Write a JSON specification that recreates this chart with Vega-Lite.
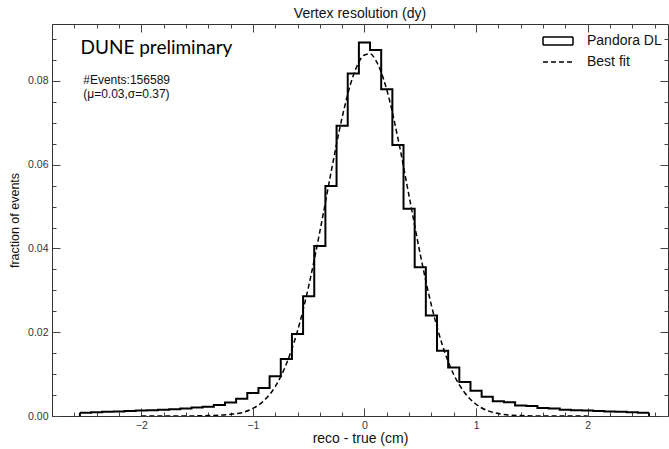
{
  "$schema": "https://vega.github.io/schema/vega-lite/v6.json",
  "width": 616,
  "height": 392,
  "autosize": "none",
  "padding": {"left": 52, "top": 24, "right": 1, "bottom": 33},
  "background": "white",
  "title": {"text": "Vertex resolution (dy)", "font": "Liberation Sans", "fontSize": 14, "fontWeight": "normal", "color": "#111", "anchor": "middle", "offset": 3},
  "config": {
    "view": {"stroke": "#333", "strokeWidth": 1},
    "axis": {"grid": false, "domainColor": "#333", "tickColor": "#444", "labelColor": "#333", "labelFont": "Liberation Sans", "labelFontSize": 10.5, "titleFont": "Liberation Sans", "titleFontWeight": "normal", "titleColor": "#111"}
  },
  "data": {"values": [
    {"lo": -2.55, "hi": -2.45, "frac": 0.0008},
    {"lo": -2.45, "hi": -2.35, "frac": 0.0009},
    {"lo": -2.35, "hi": -2.25, "frac": 0.0010},
    {"lo": -2.25, "hi": -2.15, "frac": 0.0011},
    {"lo": -2.15, "hi": -2.05, "frac": 0.0012},
    {"lo": -2.05, "hi": -1.95, "frac": 0.0013},
    {"lo": -1.95, "hi": -1.85, "frac": 0.0014},
    {"lo": -1.85, "hi": -1.75, "frac": 0.0015},
    {"lo": -1.75, "hi": -1.65, "frac": 0.0016},
    {"lo": -1.65, "hi": -1.55, "frac": 0.0018},
    {"lo": -1.55, "hi": -1.45, "frac": 0.0020},
    {"lo": -1.45, "hi": -1.35, "frac": 0.0022},
    {"lo": -1.35, "hi": -1.25, "frac": 0.0026},
    {"lo": -1.25, "hi": -1.15, "frac": 0.0032},
    {"lo": -1.15, "hi": -1.05, "frac": 0.0041},
    {"lo": -1.05, "hi": -0.95, "frac": 0.0055},
    {"lo": -0.95, "hi": -0.85, "frac": 0.0067},
    {"lo": -0.85, "hi": -0.75, "frac": 0.0095},
    {"lo": -0.75, "hi": -0.65, "frac": 0.0136},
    {"lo": -0.65, "hi": -0.55, "frac": 0.0196},
    {"lo": -0.55, "hi": -0.45, "frac": 0.0286},
    {"lo": -0.45, "hi": -0.35, "frac": 0.0406},
    {"lo": -0.35, "hi": -0.25, "frac": 0.0549},
    {"lo": -0.25, "hi": -0.15, "frac": 0.0693},
    {"lo": -0.15, "hi": -0.05, "frac": 0.0818},
    {"lo": -0.05, "hi": 0.05, "frac": 0.0892},
    {"lo": 0.05, "hi": 0.15, "frac": 0.0874},
    {"lo": 0.15, "hi": 0.25, "frac": 0.0780},
    {"lo": 0.25, "hi": 0.35, "frac": 0.0647},
    {"lo": 0.35, "hi": 0.45, "frac": 0.0495},
    {"lo": 0.45, "hi": 0.55, "frac": 0.0355},
    {"lo": 0.55, "hi": 0.65, "frac": 0.0240},
    {"lo": 0.65, "hi": 0.75, "frac": 0.0156},
    {"lo": 0.75, "hi": 0.85, "frac": 0.0116},
    {"lo": 0.85, "hi": 0.95, "frac": 0.0081},
    {"lo": 0.95, "hi": 1.05, "frac": 0.0060},
    {"lo": 1.05, "hi": 1.15, "frac": 0.0046},
    {"lo": 1.15, "hi": 1.25, "frac": 0.0035},
    {"lo": 1.25, "hi": 1.35, "frac": 0.0033},
    {"lo": 1.35, "hi": 1.45, "frac": 0.0025},
    {"lo": 1.45, "hi": 1.55, "frac": 0.0024},
    {"lo": 1.55, "hi": 1.65, "frac": 0.0019},
    {"lo": 1.65, "hi": 1.75, "frac": 0.0018},
    {"lo": 1.75, "hi": 1.85, "frac": 0.0015},
    {"lo": 1.85, "hi": 1.95, "frac": 0.0014},
    {"lo": 1.95, "hi": 2.05, "frac": 0.0013},
    {"lo": 2.05, "hi": 2.15, "frac": 0.0012},
    {"lo": 2.15, "hi": 2.25, "frac": 0.0011},
    {"lo": 2.25, "hi": 2.35, "frac": 0.0010},
    {"lo": 2.35, "hi": 2.45, "frac": 0.0009},
    {"lo": 2.45, "hi": 2.55, "frac": 0.0008}
  ]},
  "resolve": {"axis": {"x": "independent", "y": "independent"}},
  "layer": [
    {
      "transform": [{"fold": ["lo", "hi"], "as": ["edge", "xe"]}],
      "mark": {"type": "line", "color": "black", "strokeWidth": 2, "clip": true},
      "encoding": {
        "x": {"field": "xe", "type": "quantitative", "scale": {"domain": [-2.8, 2.72], "nice": false, "zero": false},
              "axis": {"orient": "bottom", "values": [-2, -1, 0, 1, 2], "tickSize": -8, "labelPadding": 12, "title": "reco - true (cm)", "titleFontSize": 14, "titlePadding": 1}},
        "y": {"field": "frac", "type": "quantitative", "scale": {"domain": [0, 0.0936], "nice": false},
              "axis": {"orient": "left", "values": [0, 0.02, 0.04, 0.06, 0.08], "format": ".2f", "tickSize": -8, "labelPadding": 12, "title": "fraction of events", "titleFontSize": 12.5, "titlePadding": 6}},
        "order": [{"field": "xe", "type": "quantitative"}, {"field": "edge", "type": "nominal"}],
        "strokeDash": {"datum": "Pandora DL", "scale": {"domain": ["Pandora DL", "Best fit"], "range": [[1, 0], [5, 3]]},
          "legend": {"title": null, "orient": "none", "legendX": 499, "legendY": 10, "symbolType": "stroke", "symbolSize": 100, "symbolStrokeWidth": 1.5, "symbolStrokeColor": "black", "labelFont": "Liberation Sans", "labelFontSize": 14, "labelColor": "#111", "labelOffset": 22, "rowPadding": 7,
            "encode": {"symbols": {"update": {"shape": {"signal": "datum.value === 'Pandora DL' ? 'M-3,-0.8H3V0.8H-3Z' : 'M-3,0H3'"}, "fill": {"value": "transparent"}, "strokeDash": {"signal": "datum.value === 'Pandora DL' ? [1,0] : [5,3]"}}}}}}
      }
    },
    {
      "data": {"values": [
        {"x": -2.0, "f": 0.0}, {"x": -1.8, "f": 0.0}, {"x": -1.6, "f": 0.0}, {"x": -1.4, "f": 0.0001},
        {"x": -1.3, "f": 0.0002}, {"x": -1.2, "f": 0.0004}, {"x": -1.1, "f": 0.0008}, {"x": -1.0, "f": 0.0018},
        {"x": -0.9, "f": 0.0037}, {"x": -0.8, "f": 0.0070}, {"x": -0.7, "f": 0.0124}, {"x": -0.6, "f": 0.0203},
        {"x": -0.5, "f": 0.0310}, {"x": -0.4, "f": 0.0440}, {"x": -0.3, "f": 0.0581}, {"x": -0.2, "f": 0.0713},
        {"x": -0.1, "f": 0.0813}, {"x": 0.0, "f": 0.0862}, {"x": 0.05, "f": 0.0865}, {"x": 0.1, "f": 0.0850},
        {"x": 0.2, "f": 0.0779}, {"x": 0.3, "f": 0.0663}, {"x": 0.4, "f": 0.0525}, {"x": 0.5, "f": 0.0386},
        {"x": 0.6, "f": 0.0264}, {"x": 0.7, "f": 0.0168}, {"x": 0.8, "f": 0.0099}, {"x": 0.9, "f": 0.0055},
        {"x": 1.0, "f": 0.0028}, {"x": 1.1, "f": 0.0013}, {"x": 1.2, "f": 0.0006}, {"x": 1.3, "f": 0.0002},
        {"x": 1.4, "f": 0.0001}, {"x": 1.6, "f": 0.0}, {"x": 1.8, "f": 0.0}, {"x": 2.0, "f": 0.0}
      ]},
      "mark": {"type": "line", "color": "black", "strokeWidth": 1.5, "interpolate": "monotone", "clip": true},
      "encoding": {
        "x": {"field": "x", "type": "quantitative", "axis": {"orient": "top", "values": [-2, -1, 0, 1, 2], "tickSize": -8, "labels": false, "domain": false, "title": null}},
        "y": {"field": "f", "type": "quantitative", "axis": {"orient": "right", "values": [0, 0.02, 0.04, 0.06, 0.08], "tickSize": -8, "labels": false, "domain": false, "title": null}},
        "strokeDash": {"datum": "Best fit"}
      }
    },
    {
      "transform": [{"filter": "datum.lo < -2.5"}],
      "mark": {"type": "rule", "color": "black", "strokeWidth": 2},
      "encoding": {
        "x": {"field": "lo", "type": "quantitative", "axis": {"orient": "bottom", "values": [-2.6, -2.4, -2.2, -1.8, -1.6, -1.4, -1.2, -0.8, -0.6, -0.4, -0.2, 0.2, 0.4, 0.6, 0.8, 1.2, 1.4, 1.6, 1.8, 2.2, 2.4, 2.6], "tickSize": -4, "labels": false, "domain": false, "title": null}},
        "y": {"field": "frac", "type": "quantitative", "axis": {"orient": "left", "values": [0.005, 0.01, 0.015, 0.025, 0.03, 0.035, 0.045, 0.05, 0.055, 0.065, 0.07, 0.075, 0.085, 0.09], "tickSize": -4, "labels": false, "domain": false, "title": null}},
        "y2": {"datum": 0}
      }
    },
    {
      "transform": [{"filter": "datum.hi > 2.5"}],
      "mark": {"type": "rule", "color": "black", "strokeWidth": 2},
      "encoding": {
        "x": {"field": "hi", "type": "quantitative", "axis": {"orient": "top", "values": [-2.6, -2.4, -2.2, -1.8, -1.6, -1.4, -1.2, -0.8, -0.6, -0.4, -0.2, 0.2, 0.4, 0.6, 0.8, 1.2, 1.4, 1.6, 1.8, 2.2, 2.4, 2.6], "tickSize": -4, "labels": false, "domain": false, "title": null}},
        "y": {"field": "frac", "type": "quantitative", "axis": {"orient": "right", "values": [0.005, 0.01, 0.015, 0.025, 0.03, 0.035, 0.045, 0.05, 0.055, 0.065, 0.07, 0.075, 0.085, 0.09], "tickSize": -4, "labels": false, "domain": false, "title": null}},
        "y2": {"datum": 0}
      }
    },
    {
      "data": {"values": [{"label": "DUNE preliminary"}]},
      "mark": {"type": "text", "font": "Lato", "fontSize": 19, "align": "left", "baseline": "middle", "color": "black"},
      "encoding": {"text": {"field": "label"}, "x": {"datum": -2.545, "axis": null}, "y": {"datum": 0.0879, "axis": null}}
    },
    {
      "data": {"values": [{"label": "#Events:156589"}]},
      "mark": {"type": "text", "font": "Liberation Sans", "fontSize": 12, "align": "left", "baseline": "middle", "color": "#111"},
      "encoding": {"text": {"field": "label"}, "x": {"datum": -2.52, "axis": null}, "y": {"datum": 0.0802, "axis": null}}
    },
    {
      "data": {"values": [{"label": "(μ=0.03,σ=0.37)"}]},
      "mark": {"type": "text", "font": "Liberation Sans", "fontSize": 12, "align": "left", "baseline": "middle", "color": "#111"},
      "encoding": {"text": {"field": "label"}, "x": {"datum": -2.52, "axis": null}, "y": {"datum": 0.0770, "axis": null}}
    }
  ]
}
